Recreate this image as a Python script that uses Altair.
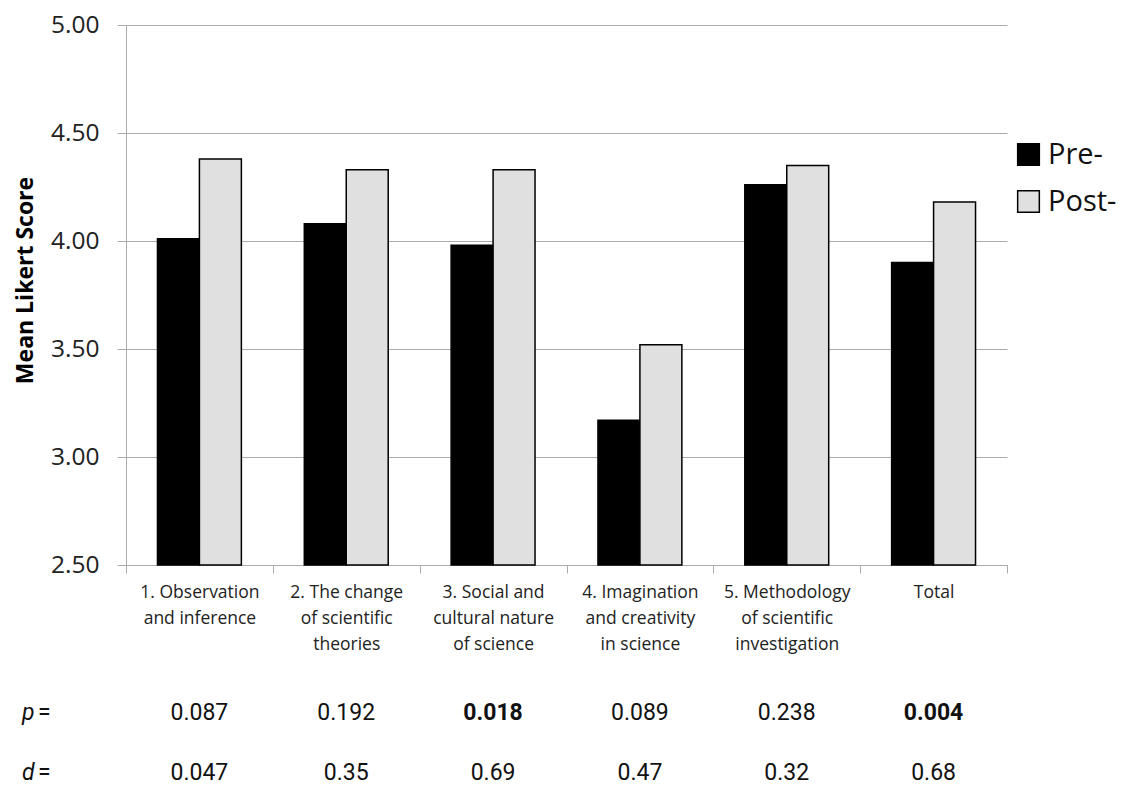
import altair as alt
import pandas as pd

categories = [
    "1. Observation|and inference",
    "2. The change|of scientific|theories",
    "3. Social and|cultural nature|of science",
    "4. Imagination|and creativity|in science",
    "5. Methodology|of scientific|investigation",
    "Total",
]
groups = ["Pre-", "Post-"]
pre = [4.01, 4.08, 3.98, 3.17, 4.26, 3.90]
post = [4.38, 4.33, 4.33, 3.52, 4.35, 4.18]
p_values = ["0.087", "0.192", "0.018", "0.089", "0.238", "0.004"]
d_values = ["0.047", "0.35", "0.69", "0.47", "0.32", "0.68"]

rows = []
for c, a, b in zip(categories, pre, post):
    rows.append({"cat": c, "group": "Pre-", "value": a})
    rows.append({"cat": c, "group": "Post-", "value": b})
bars_df = pd.DataFrame(rows)
stats_df = pd.DataFrame({"cat": categories, "p": p_values, "d": d_values})
stats_df["pnum"] = stats_df["p"].astype(float)

GRID = "#ababab"
FONT = "Open Sans"
NARROW = "Liberation Sans Narrow, Roboto, sans-serif"

x_enc = alt.X(
    "cat:N",
    sort=categories,
    scale=alt.Scale(paddingInner=0, paddingOuter=0),
    axis=alt.Axis(
        title=None,
        labelAngle=0,
        labelExpr="split(datum.label, '|')",
        labelLineHeight=26,
        labelFontSize=17.5,
        labelFont=FONT,
        labelColor="#222222",
        labelPadding=10,
        tickBand="extent",
        tickSize=8,
        tickColor=GRID,
        domainColor=GRID,
        grid=False,
    ),
)

bars = alt.Chart(bars_df).mark_bar(stroke="black", strokeWidth=1.5).encode(
    x=x_enc,
    xOffset=alt.XOffset(
        "group:N", sort=groups, scale=alt.Scale(paddingOuter=0.75, paddingInner=0)
    ),
    y=alt.Y(
        "value:Q",
        scale=alt.Scale(domain=[2.5, 5.0], zero=False, nice=False),
        axis=alt.Axis(
            title="Mean Likert Score",
            titleFont=FONT,
            titleFontSize=23,
            titleFontWeight="bold",
            titleColor="black",
            titleAngle=-90,
            titleX=-101,
            titleY=255,
            titleAlign="center",
            titleBaseline="middle",
            values=[2.5, 3.0, 3.5, 4.0, 4.5, 5.0],
            format=".2f",
            labelFont=FONT,
            labelFontSize=24.5,
            labelColor="#222222",
            labelPadding=18,
            tickSize=9,
            tickColor=GRID,
            domainColor=GRID,
            gridColor=GRID,
            grid=True,
        ),
    ),
    y2=alt.datum(2.5),
    color=alt.Color(
        "group:N",
        sort=groups,
        scale=alt.Scale(domain=groups, range=["#000000", "#e0e0e0"]),
        legend=alt.Legend(
            title=None,
            orient="none",
            legendX=888,
            legendY=115,
            symbolType="square",
            symbolSize=470,
            symbolStrokeColor="black",
            symbolStrokeWidth=1.5,
            labelFont=FONT,
            labelFontSize=29,
            labelColor="#111111",
            rowPadding=17,
            labelOffset=5,
        ),
    ),
)

p_normal = alt.Chart(stats_df).transform_filter("datum.pnum >= 0.05").mark_text(
    font=NARROW, fontSize=23, color="#111111"
).encode(x=alt.X("cat:N", sort=categories), y=alt.value(688), text="p:N")

p_bold = alt.Chart(stats_df).transform_filter("datum.pnum < 0.05").mark_text(
    font=NARROW, fontSize=23, fontWeight="bold", color="#111111"
).encode(x=alt.X("cat:N", sort=categories), y=alt.value(688), text="p:N")

d_text = alt.Chart(stats_df).mark_text(
    font=NARROW, fontSize=23, color="#111111"
).encode(x=alt.X("cat:N", sort=categories), y=alt.value(748), text="d:N")

row_df = pd.DataFrame({"sym": ["p", "d"], "ypos": [688, 748]})
sym_text = alt.Chart(row_df).mark_text(
    font=NARROW, fontSize=23, fontStyle="italic", align="left", color="#111111"
).encode(x=alt.value(-104), y=alt.Y("ypos:Q", scale=None), text="sym:N")
eq_text = alt.Chart(row_df).mark_text(
    font=NARROW, fontSize=23, align="left", color="#111111", text="="
).encode(x=alt.value(-88), y=alt.Y("ypos:Q", scale=None))

chart = (
    alt.layer(bars, p_normal, p_bold, d_text, sym_text, eq_text)
    .properties(
        width=881,
        height=540,
        autosize=alt.AutoSizeParams(type="none"),
        padding={"left": 118, "top": 17, "right": 110, "bottom": 220},
    )
    .configure_view(stroke=None)
    .configure_axis(domainWidth=1, tickWidth=1, gridWidth=1)
)

chart.save("out.html", embed_options={"renderer": "svg", "actions": False})
